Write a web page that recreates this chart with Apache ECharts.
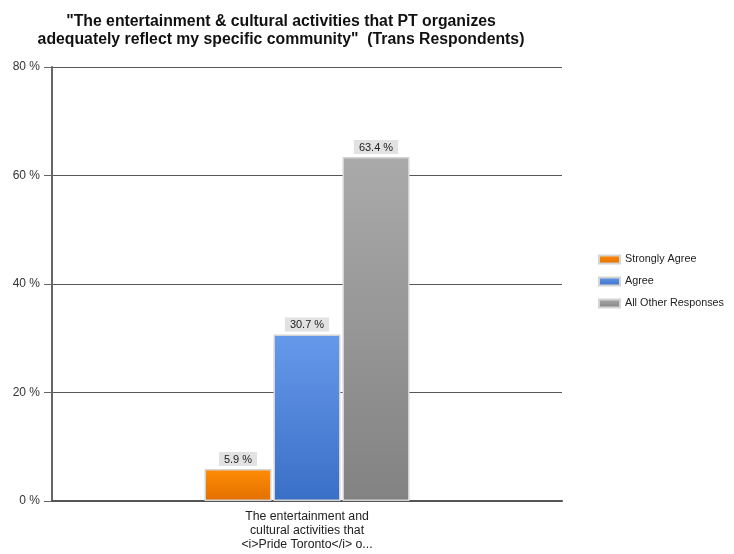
<!DOCTYPE html>
<html>
<head>
    <meta charset="utf-8">
    <script src="https://cdn.jsdelivr.net/npm/echarts@6/dist/echarts.min.js"></script>
</head>
<body style="margin:0;background:#fff;">
    <div id="main" style="width:734px;height:554px;"></div>
    <script type="text/javascript">
        // data
        var categories = ['The entertainment and\ncultural activities that\n<i>Pride Toronto</i> o...'];
        var seriesNames = ['Strongly Agree', 'Agree', 'All Other Responses'];
        var stronglyAgree = [5.9];
        var agree = [30.7];
        var otherResponses = [63.4];

        var colors = [
            ['#FF8C05', '#E27000'],
            ['#6699EA', '#3A6FC7'],
            ['#AAAAAA', '#828282']
        ];

        function grad(c) {
            return new echarts.graphic.LinearGradient(0, 0, 0, 1, [
                { offset: 0, color: c[0] },
                { offset: 1, color: c[1] }
            ]);
        }

        function makeSeries(name, values, idx) {
            return {
                name: name,
                type: 'bar',
                data: values,
                barWidth: 67,
                barGap: '3%',
                itemStyle: {
                    color: grad(colors[idx]),
                    borderColor: '#D4D4D4',
                    borderWidth: 1.5
                },
                label: {
                    show: true,
                    position: 'top',
                    distance: 3,
                    formatter: function (p) { return p.value.toFixed(1) + ' %'; },
                    backgroundColor: '#E2E2E2',
                    padding: [2, 5, 1, 5],
                    color: '#222',
                    fontSize: 11,
                    fontFamily: 'Liberation Sans'
                }
            };
        }

        var myChart = echarts.init(document.getElementById('main'));

        var option = {
            animation: false,
            title: {
                text: '"The entertainment & cultural activities that PT organizes\nadequately reflect my specific community"  (Trans Respondents)',
                left: 276,
                textAlign: 'center',
                top: 8,
                textStyle: {
                    fontFamily: 'Liberation Sans',
                    fontWeight: 'bold',
                    fontSize: 15.8,
                    lineHeight: 18,
                    color: '#111'
                }
            },
            legend: {
                orient: 'vertical',
                left: 593,
                top: 249,
                itemWidth: 21,
                itemHeight: 8,
                itemGap: 11,
                icon: 'rect',
                textStyle: {
                    fontFamily: 'Liberation Sans',
                    fontSize: 10.8,
                    color: '#222'
                },
                data: seriesNames
            },
            grid: {
                left: 52,
                right: 172,
                top: 67,
                bottom: 53
            },
            xAxis: {
                type: 'category',
                data: categories,
                axisLine: { lineStyle: { color: '#555', width: 2 } },
                axisTick: { alignWithLabel: true, length: 6, lineStyle: { color: '#333' } },
                axisLabel: {
                    interval: 0,
                    margin: 9,
                    fontFamily: 'Liberation Sans',
                    fontSize: 12.3,
                    lineHeight: 14,
                    color: '#222'
                }
            },
            yAxis: {
                type: 'value',
                min: 0,
                max: 80,
                interval: 20,
                axisLine: { show: true, lineStyle: { color: '#666', width: 2 } },
                axisTick: { show: true, length: 8, lineStyle: { color: '#666' } },
                splitLine: { lineStyle: { color: '#555' } },
                axisLabel: {
                    formatter: '{value} %',
                    margin: 12,
                    fontFamily: 'Liberation Sans',
                    fontSize: 12,
                    color: '#333'
                }
            },
            series: [
                makeSeries(seriesNames[0], stronglyAgree, 0),
                makeSeries(seriesNames[1], agree, 1),
                makeSeries(seriesNames[2], otherResponses, 2)
            ]
        };

        myChart.setOption(option);
    </script>
</body>
</html>
